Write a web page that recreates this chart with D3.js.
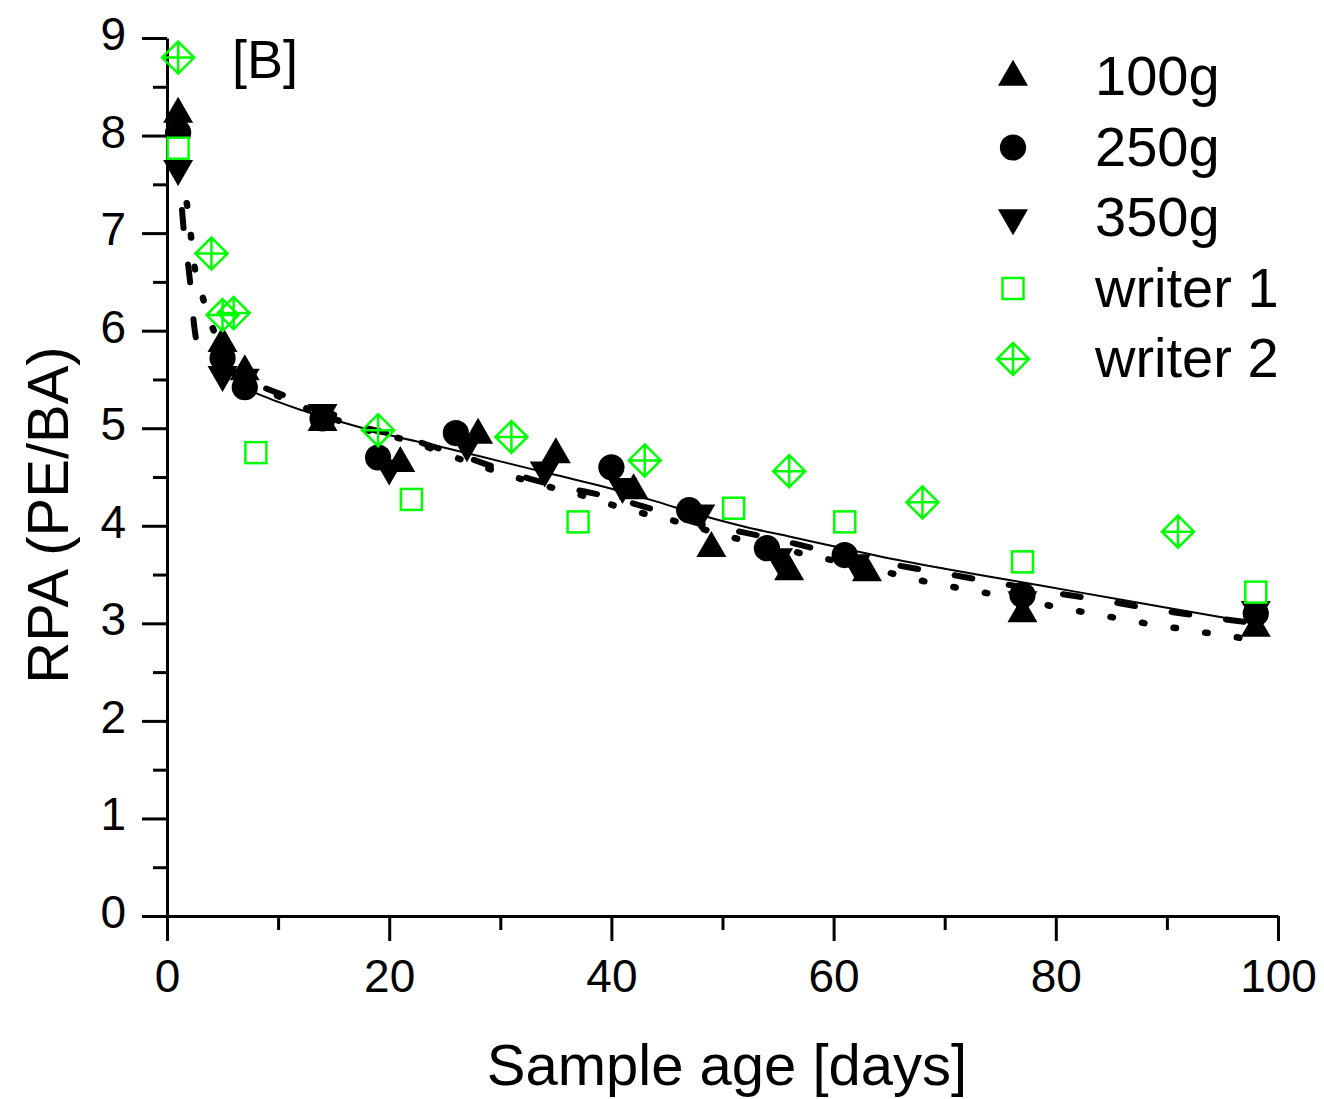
<!DOCTYPE html>
<html>
<head>
<meta charset="utf-8">
<script src="https://cdn.jsdelivr.net/npm/d3@7"></script>
<style>
  body { margin: 0; background: #fff; }
  text { font-family: Arial, "Liberation Sans", sans-serif; }
</style>
</head>
<body>
<svg class="chart"></svg>
<script>
// measured series
const days100 = [1, 5, 7, 14, 21, 28, 35, 42, 49, 56, 63, 77, 98];
const rpa100 = [8.22, 5.87, 5.58, 5.06, 4.64, 4.93, 4.73, 4.36, 3.77, 3.53, 3.52, 3.10, 2.95];
const days250 = [1, 5, 7, 14, 19, 26, 40, 47, 54, 61, 77, 98];
const rpa250 = [8.03, 5.72, 5.42, 5.10, 4.70, 4.95, 4.60, 4.16, 3.77, 3.70, 3.29, 3.10];
const days350 = [1, 5, 7, 14, 20, 27, 34, 41, 48, 55, 62, 77, 98];
const rpa350 = [7.66, 5.55, 5.52, 5.16, 4.59, 4.83, 4.57, 4.40, 4.13, 3.68, 3.62, 3.24, 3.14];
const daysW1 = [1, 8, 22, 37, 51, 61, 77, 98];
const rpaW1 = [7.87, 4.75, 4.27, 4.04, 4.18, 4.04, 3.63, 3.32];
const daysW2 = [1, 4, 5, 6, 19, 31, 43, 56, 68, 91];
const rpaW2 = [8.80, 6.79, 6.16, 6.18, 4.98, 4.91, 4.67, 4.56, 4.24, 3.94];

// fitted curves
const solidDays = [6, 8, 10, 12, 14, 20, 25, 30, 35, 40, 44, 48, 52, 56, 60, 64, 70, 75, 82, 90, 98];
const solidRpa = [5.45, 5.36, 5.27, 5.19, 5.12, 4.93, 4.80, 4.66, 4.52, 4.38, 4.25, 4.11, 3.99, 3.89, 3.79, 3.69, 3.56, 3.46, 3.32, 3.16, 3.00];
const dashDays = [1, 1.45, 2.05, 2.5, 2.8, 3.2, 4, 6, 8, 10, 12, 15, 18, 21, 24, 27, 30, 33, 36, 40, 44, 48, 52, 56, 60, 64, 68, 72, 76, 80, 84, 88, 92, 96, 98];
const dashRpa = [7.80, 7.10, 6.53, 6.00, 5.82, 5.74, 5.68, 5.56, 5.45, 5.36, 5.27, 5.14, 5.00, 4.92, 4.81, 4.70, 4.58, 4.47, 4.39, 4.29, 4.16, 4.02, 3.93, 3.83, 3.72, 3.63, 3.55, 3.47, 3.39, 3.31, 3.24, 3.16, 3.09, 3.03, 3.00];
const dotDays = [1, 1.2, 1.7, 2.1, 2.4, 3.1, 4, 5, 6, 8, 10, 14, 18, 22.4, 25.2, 28.3, 31, 33.7, 36.8, 39.6, 42.4, 45.3, 50.9, 56.6, 65.3, 68.2, 70.9, 73.8, 79.5, 82.3, 85.2, 88.1, 90.9, 93.7, 96.7, 98];
const dotRpa = [7.62, 7.52, 7.36, 7.03, 6.72, 6.39, 6.06, 5.82, 5.65, 5.45, 5.33, 5.14, 4.98, 4.85, 4.73, 4.61, 4.51, 4.42, 4.33, 4.23, 4.14, 4.06, 3.88, 3.73, 3.51, 3.43, 3.37, 3.31, 3.18, 3.12, 3.06, 3.00, 2.95, 2.90, 2.85, 2.83];

const xMajor = [0, 20, 40, 60, 80, 100];
const xMinor = [10, 30, 50, 70, 90];
const yMajor = [0, 1, 2, 3, 4, 5, 6, 7, 8, 9];
const yMinor = [0.5, 1.5, 2.5, 3.5, 4.5, 5.5, 6.5, 7.5, 8.5];
const legendNames = ['100g', '250g', '350g', 'writer 1', 'writer 2'];

const config = {
    width: 1324, height: 1099,
    plot: { left: 167, right: 1278, top: 38, bottom: 916 },
    green: '#00ff00'
};

function translate(x, y) { return 'translate(' + x + ',' + y + ')'; }
function zip(a, b) { return a.map((d, i) => [d, b[i]]); }

let svg = d3.select('.chart')
    .attr('width', config.width)
    .attr('height', config.height)
    .style('background-color', '#fff');

let x = d3.scaleLinear().domain([0, 100]).range([config.plot.left, config.plot.right]);
let y = d3.scaleLinear().domain([0, 9]).range([config.plot.bottom, config.plot.top]);

// symbols
const triUp = d3.symbol().type(d3.symbolTriangle).size(390);
const dot = d3.symbol().type(d3.symbolCircle).size(540);
const diamondPath = 'M0,-16L16,0L0,16L-16,0Z M0,-16L0,16 M-16,0L16,0';

function drawMarker(g, kind) {
    if (kind === 'up') {
        g.append('path').attr('d', triUp()).attr('fill', '#000');
    } else if (kind === 'down') {
        g.append('path').attr('d', triUp()).attr('transform', 'rotate(180)').attr('fill', '#000');
    } else if (kind === 'circle') {
        g.append('path').attr('d', dot()).attr('fill', '#000');
    } else if (kind === 'square') {
        g.append('rect').attr('x', -10.5).attr('y', -10.5).attr('width', 21).attr('height', 21)
            .attr('fill', '#fff').attr('stroke', config.green).attr('stroke-width', 2.5);
    } else {
        g.append('path').attr('d', diamondPath)
            .attr('fill', 'none').attr('stroke', config.green).attr('stroke-width', 2.5);
    }
}

// axes
let xAxis = svg.append('g')
    .attr('transform', translate(0, config.plot.bottom))
    .call(d3.axisBottom(x).tickValues(xMajor).tickSize(25).tickSizeOuter(0).tickPadding(18).tickFormat(d3.format('d')));
svg.append('g')
    .attr('transform', translate(0, config.plot.bottom))
    .call(d3.axisBottom(x).tickValues(xMinor).tickSize(14).tickFormat(''))
    .call(g => g.select('.domain').remove());

let yAxis = svg.append('g')
    .attr('transform', translate(config.plot.left, 0))
    .call(d3.axisLeft(y).tickValues(yMajor).tickSize(25).tickSizeOuter(0).tickPadding(16).tickFormat(d3.format('d')));
svg.append('g')
    .attr('transform', translate(config.plot.left, 0))
    .call(d3.axisLeft(y).tickValues(yMinor).tickSize(14).tickFormat(''))
    .call(g => g.select('.domain').remove());

svg.selectAll('.domain').attr('stroke', '#000').attr('stroke-width', 3);
svg.selectAll('.tick line').attr('stroke', '#000').attr('stroke-width', 3);
svg.selectAll('.tick text')
    .attr('fill', '#000')
    .style('font-size', '46px')
    .style('font-family', 'Arial, "Liberation Sans", sans-serif');
yAxis.selectAll('.tick text').attr('dy', '0.25em');

// axis titles
svg.append('text')
    .attr('x', 727).attr('y', 1085)
    .attr('text-anchor', 'middle')
    .style('font-size', '58px')
    .text('Sample age [days]');

svg.append('text')
    .attr('transform', translate(68, 515) + ' rotate(-90)')
    .attr('text-anchor', 'middle')
    .style('font-size', '58px')
    .text('RPA (PE/BA)');

svg.append('text')
    .attr('x', 232).attr('y', 78)
    .style('font-size', '54px')
    .text('[B]');

// fitted curves
let line = d3.line()
    .x(d => x(d[0]))
    .y(d => y(d[1]))
    .curve(d3.curveMonotoneX);

svg.append('path')
    .datum(zip(dotDays, dotRpa))
    .attr('d', line)
    .attr('fill', 'none')
    .attr('stroke', '#000')
    .attr('stroke-width', 6.5)
    .attr('stroke-linecap', 'round')
    .attr('stroke-dasharray', '2.5,29.5');

svg.append('path')
    .datum(zip(dashDays, dashRpa))
    .attr('d', line)
    .attr('fill', 'none')
    .attr('stroke', '#000')
    .attr('stroke-width', 6)
    .attr('stroke-linecap', 'round')
    .attr('stroke-dasharray', '18,37');

svg.append('path')
    .datum(zip(solidDays, solidRpa))
    .attr('d', line)
    .attr('fill', 'none')
    .attr('stroke', '#000')
    .attr('stroke-width', 2);

// points
let series = [
    { days: days100, rpa: rpa100, kind: 'up' },
    { days: days250, rpa: rpa250, kind: 'circle' },
    { days: days350, rpa: rpa350, kind: 'down' },
    { days: daysW1, rpa: rpaW1, kind: 'square' },
    { days: daysW2, rpa: rpaW2, kind: 'diamond' }
];

series.forEach(s => {
    svg.append('g').selectAll('g')
        .data(zip(s.days, s.rpa))
        .enter().append('g')
        .attr('transform', d => translate(x(d[0]), y(d[1])))
        .each(function() { drawMarker(d3.select(this), s.kind); });
});

// legend
let legend = svg.append('g').attr('class', 'legend');
legendNames.forEach((name, i) => {
    let base = 95 + i * 70.5;
    drawMarker(legend.append('g').attr('transform', translate(1013, base - 18)), series[i].kind);
    legend.append('text')
        .attr('x', 1095).attr('y', base)
        .style('font-size', '56px')
        .text(name);
});
</script>
</body>
</html>
